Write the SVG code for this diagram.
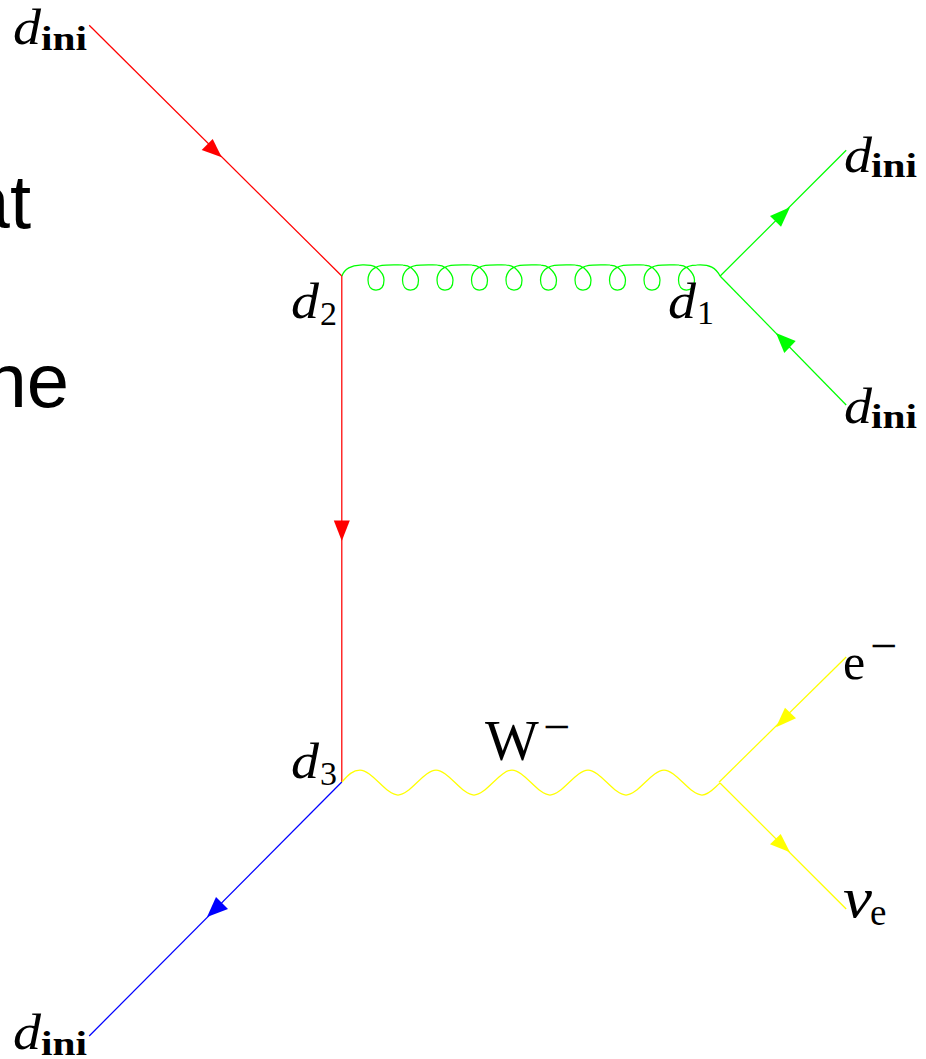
<svg xmlns="http://www.w3.org/2000/svg" width="926" height="1059" viewBox="0 0 926 1059">
<style>
.l{fill:none;stroke-width:1.25}
.r{stroke:#ff0000}.g{stroke:#00ff00}.b{stroke:#0000ff}.y{stroke:#ffff00}
.ar{fill:#ff0000}.ag{fill:#00ff00}.ab{fill:#0000ff}.ay{fill:#ffff00}
text{fill:#000;font-family:"Liberation Serif",serif}
.d{font-style:italic;font-size:50px}
.s{font-size:33px;font-weight:bold}
.s2{font-size:34px}
.m{font-size:50px}
.mm{font-size:48px}
.bg{font-family:"Liberation Sans",Arial,sans-serif;font-size:76px;text-anchor:end}
</style>
<rect width="926" height="1059" fill="#ffffff"/>
<g id="background-text">
<text class="bg" x="31" y="228">at</text>
<text class="bg" x="69" y="407">ne</text>
</g>
<g id="connectors">
<path class="l r" d="M89.200,25.200L341.800,276"/>
<path class="l r" d="M341.800,276V782"/>
<path class="l b" d="M341.800,782L89.200,1036"/>
<path class="l g" d="M720.200,276L846.200,150.200"/>
<path class="l g" d="M720,276L846.200,405"/>
<path class="l y" d="M846.200,657L719,782.200"/>
<path class="l y" d="M720,783L846.200,909"/>
<path class="l g" d="M342,276C344,269 352,265 360,265C368,265 373,264.500 377,268C382,272 384,276 384,280C384,287 381,290 376,290C371,290 368,286 368,280C368,272 374,265 386,265C394,265 399,264.500 403,265C407,265 409,266 411.500,268C416,272 418.500,276 418.500,280C418.500,287 415.500,290 410.500,290C405.500,290 402.500,286 402.500,280C402.500,272 408.500,265 420.500,265C428.500,265 433.500,264.500 437.500,265C441.500,265 443.500,266 446,268C450.500,272 453,276 453,280C453,287 450,290 445,290C440,290 437,286 437,280C437,272 443,265 455,265C463,265 468,264.500 472,265C476,265 478,266 480.500,268C485,272 487.500,276 487.500,280C487.500,287 484.500,290 479.500,290C474.500,290 471.500,286 471.500,280C471.500,272 477.500,265 489.500,265C497.500,265 502.500,264.500 506.500,265C510.500,265 512.500,266 515,268C519.500,272 522,276 522,280C522,287 519,290 514,290C509,290 506,286 506,280C506,272 512,265 524,265C532,265 537,264.500 541,265C545,265 547,266 549.500,268C554,272 556.500,276 556.500,280C556.500,287 553.500,290 548.500,290C543.500,290 540.500,286 540.500,280C540.500,272 546.500,265 558.500,265C566.500,265 571.500,264.500 575.500,265C579.500,265 581.500,266 584,268C588.500,272 591,276 591,280C591,287 588,290 583,290C578,290 575,286 575,280C575,272 581,265 593,265C601,265 606,264.500 610,265C614,265 616,266 618.500,268C623,272 625.500,276 625.500,280C625.500,287 622.500,290 617.500,290C612.500,290 609.500,286 609.500,280C609.500,272 615.500,265 627.500,265C635.500,265 640.500,264.500 644.500,265C648.500,265 650.500,266 653,268C657.500,272 660,276 660,280C660,287 657,290 652,290C647,290 644,286 644,280C644,272 650,265 662,265C670,265 675,264.500 679,265C683,265 685,266 687.500,268C692,272 694.500,276 694.500,280C694.500,287 691.500,290 686.500,290C681.500,290 678.500,286 678.500,280C678.500,272 684.500,265 696.500,265C710,264 716,268 720,276"/>
<path class="l y" d="M342,782C348,775 353,770 360,770C372,770 386,795 398,795C410,795 424,770 436,770C448,770 462,795 474,795C486,795 500,770 512,770C524,770 538,795 550,795C562,795 576,770 588,770C600,770 614,795 626,795C638,795 652,770 664,770C676,770 690,795 702,795C709,795 714,788 720,783"/>
<polygon class="ar" points="221.700,157.300 201.700,150 212.700,139"/>
<polygon class="ar" points="341.800,541 333.800,520.500 349.800,520.500"/>
<polygon class="ab" points="207,917 216,897 228,909"/>
<polygon class="ag" points="790,207.300 770,216 781,226.700"/>
<polygon class="ag" points="776,333 795.700,341 784.300,353"/>
<polygon class="ay" points="776,727.300 785,707.700 796,718.300"/>
<polygon class="ay" points="790,852.300 770,844.300 780.700,834"/>
</g>
<g id="label-d-ini-top-left"><text class="d" x="13" y="44" textLength="28" lengthAdjust="spacingAndGlyphs">d</text><text class="s" x="41" y="50" textLength="46" lengthAdjust="spacingAndGlyphs">ini</text></g>
<g id="label-d-ini-top-right"><text class="d" x="844" y="172" textLength="28" lengthAdjust="spacingAndGlyphs">d</text><text class="s" x="871" y="177" textLength="46" lengthAdjust="spacingAndGlyphs">ini</text></g>
<g id="label-d-ini-mid-right"><text class="d" x="844" y="423" textLength="28" lengthAdjust="spacingAndGlyphs">d</text><text class="s" x="871" y="428" textLength="46" lengthAdjust="spacingAndGlyphs">ini</text></g>
<g id="label-d-ini-bottom-left"><text class="d" x="13" y="1049" textLength="28" lengthAdjust="spacingAndGlyphs">d</text><text class="s" x="41" y="1055" textLength="46" lengthAdjust="spacingAndGlyphs">ini</text></g>
<g id="label-d2"><text class="d" x="291" y="318" textLength="28" lengthAdjust="spacingAndGlyphs">d</text><text class="s2" x="320" y="325">2</text></g>
<g id="label-d1"><text class="d" x="668" y="318" textLength="28" lengthAdjust="spacingAndGlyphs">d</text><text class="s2" x="697" y="324">1</text></g>
<g id="label-d3"><text class="d" x="291" y="778" textLength="28" lengthAdjust="spacingAndGlyphs">d</text><text class="s2" x="320" y="785">3</text></g>
<g id="label-w"><text class="m" style="font-size:57px" x="485" y="760">W</text><text class="mm" x="543" y="743">−</text></g>
<g id="label-e"><text class="m" x="843" y="679">e</text><text class="mm" x="870" y="662">−</text></g>
<g id="label-nu"><text class="d" style="font-size:56px" x="843" y="917" textLength="29" lengthAdjust="spacingAndGlyphs">ν</text><text class="s2" style="font-size:37px" x="870" y="925">e</text></g>
</svg>
